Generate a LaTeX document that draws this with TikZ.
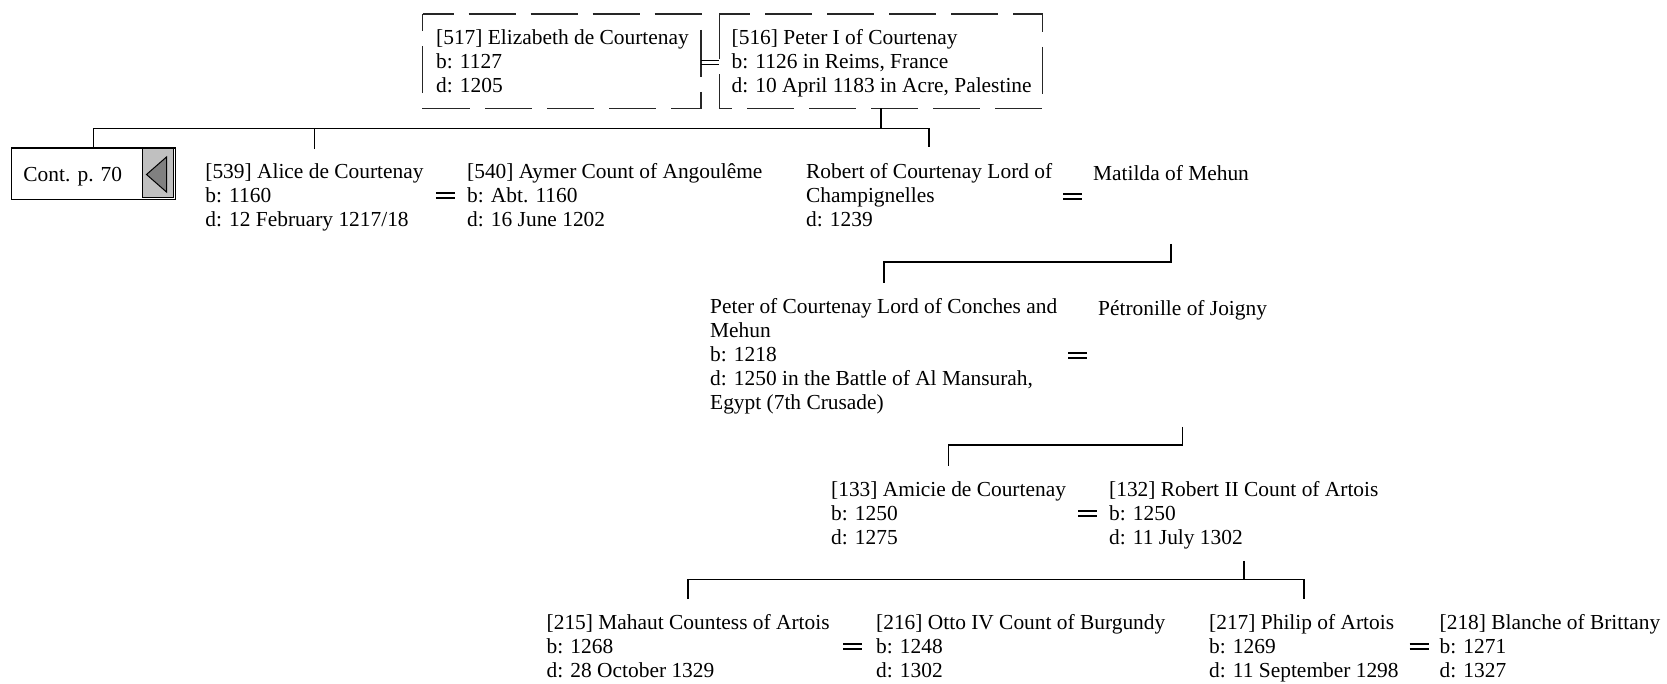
\documentclass[tikz,border=0pt]{standalone}
\usepackage{fontspec}
\setmainfont{Liberation Serif}
\usetikzlibrary{calc}
\definecolor{lgrey}{HTML}{C0C0C0}
\definecolor{dgrey}{HTML}{808080}
\newcommand\pfont{\fontsize{21.4pt}{24pt}\selectfont}
\begin{document}
\begin{tikzpicture}[x=1pt,y=-1pt,
  every node/.style={font=\pfont},
  person/.style={inner xsep=0pt, inner ysep=14pt, align=left, anchor=north west,
    execute at begin node=\strut, execute at end node=\strut},
  btext/.style={inner sep=0pt, align=left, anchor=north west, execute at begin node=\strut},
  dbox/.style={inner sep=0pt, anchor=north west, minimum height=94pt},
  dashes/.style={draw=black!85, line width=1.2pt, dash pattern=on 47pt off 15pt, dash phase=16pt},
  conn/.style={draw=black, line width=1.6pt},
  dbl/.style={draw=black, line width=1.1pt},
  eqs/.style={draw=black, line width=2pt}]
\useasboundingbox (0,0) rectangle (1667,684);

% parents
\node[dbox, minimum width=277.8pt] (eliz) at (422.7,14) {};
\draw[dashes] (eliz.north west) -- (eliz.north east) -- (eliz.south east) -- (eliz.south west) -- cycle;
\node[btext] (eliztext) at (436,29.2) {[517] Elizabeth de Courtenay\\b: 1127\\d: 1205};
\node[dbox, minimum width=322.7pt] (peter) at (719.3,14) {};
\draw[dashes] (peter.north west) -- (peter.north east) -- (peter.south east) -- (peter.south west) -- cycle;
\node[btext] (petertext) at (731.5,29.2) {[516] Peter I of Courtenay\\b: 1126 in Reims, France\\d: 10 April 1183 in Acre, Palestine};
\draw[dbl] ($(eliz.east)+(0,-1)$) -- ($(peter.west)+(0,-1)$);
\draw[dbl] ($(eliz.east)+(0,3)$) -- ($(peter.west)+(0,3)$);

% continuation box
\node[draw, line width=1.3pt, minimum width=164pt, minimum height=51.7pt, inner sep=0pt, anchor=north west] (cont) at (11,147.3) {};
\filldraw[fill=lgrey, draw=black, line width=0.8pt] (142.7,148.6) rectangle (173.2,197.7);
\filldraw[fill=dgrey, draw=black, line width=1pt] (166.5,157) -- (146.5,174.5) -- (166.5,192) -- cycle;
\node[anchor=base, inner sep=0pt] (contlabel) at (72.8,182) {Cont. p. 70};

% generation 2
\node[person] (alice) at (205.2,149.2) {[539] Alice de Courtenay\\b: 1160\\d: 12 February 1217/18};
\node[person] (aymer) at (467,149.2) {[540] Aymer Count of Angoulême\\b: Abt. 1160\\d: 16 June 1202};
\node[person] (robert) at (806,149.2) {Robert of Courtenay Lord of\\Champignelles\\d: 1239};
\node[person] (matilda) at (1093,149.2) {Matilda of Mehun};

% generation 3
\node[person] (peterc) at (710,284.2) {Peter of Courtenay Lord of Conches and\\Mehun\\b: 1218\\d: 1250 in the Battle of Al Mansurah,\\Egypt (7th Crusade)};
\node[person] (petronille) at (1098,284.2) {Pétronille of Joigny};

% generation 4
\node[person] (amicie) at (831,467.2) {[133] Amicie de Courtenay\\b: 1250\\d: 1275};
\node[person] (robertii) at (1109,467.2) {[132] Robert II Count of Artois\\b: 1250\\d: 11 July 1302};

% generation 5
\node[person] (mahaut) at (546.5,600) {[215] Mahaut Countess of Artois\\b: 1268\\d: 28 October 1329};
\node[person] (otto) at (876,600) {[216] Otto IV Count of Burgundy\\b: 1248\\d: 1302};
\node[person] (philip) at (1209,600) {[217] Philip of Artois\\b: 1269\\d: 11 September 1298};
\node[person] (blanche) at (1439.5,600) {[218] Blanche of Brittany\\b: 1271\\d: 1327};

% tree 1
\draw[conn] (peter.south) -- ++(0,20) coordinate (bar1);
\draw[conn] (cont.north) |- (robert.north |- bar1) -- ($(robert.north)+(0,-2)$);
\draw[conn] (alice.north) -- (alice.north |- bar1);

% tree 2
\coordinate (bar2) at ($(peterc.north)+(0,-22)$);
\draw[conn] ($(matilda.south |- robert.south)+(0,-4)$) -- (matilda.south |- bar2) -- (bar2) -- ($(peterc.north)+(0,-1)$);

% tree 3
\coordinate (bar3) at ($(amicie.north)+(0,-22)$);
\draw[conn] ($(petronille.south |- peterc.south)+(0,-4)$) -- (petronille.south |- bar3) -- (bar3) -- ($(amicie.north)+(0,-1)$);

% tree 4
\coordinate (bar4) at ($(mahaut.north)+(0,-20.5)$);
\draw[conn] ($(robertii.south)+(0,-5)$) -- (robertii.south |- bar4);
\draw[conn] ($(mahaut.north)+(0,-1)$) -- (bar4) -- (philip.north |- bar4) -- ($(philip.north)+(0,-1)$);

% marriages
\foreach \a/\b in {alice/aymer, robert/matilda, peterc/petronille, amicie/robertii, mahaut/otto, philip/blanche}{
  \draw[eqs] ($(\a.east)!0.5!(\b.west |- \a.east)+(-9.5,-5)$) -- ++(19,0)
             ($(\a.east)!0.5!(\b.west |- \a.east)+(-9.5,0)$) -- ++(19,0);
}
\end{tikzpicture}
\end{document}
